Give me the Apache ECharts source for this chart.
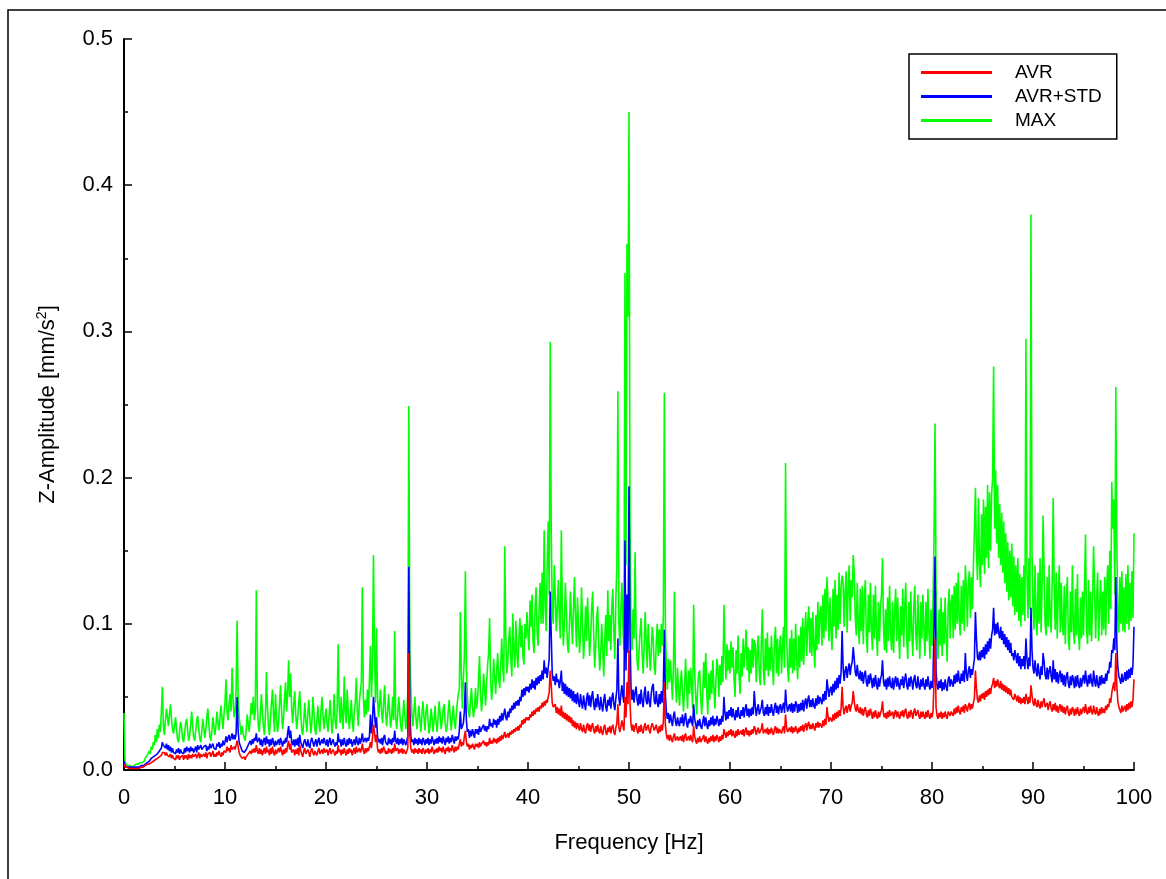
<!DOCTYPE html>
<html>
<head>
<meta charset="utf-8">
<title>Z-Amplitude spectrum</title>
<script src="https://cdn.jsdelivr.net/npm/echarts@6/dist/echarts.min.js"></script>
<style>
  html, body { margin: 0; padding: 0; background: #ffffff; }
  #chart { width: 1166px; height: 879px; }
</style>
</head>
<body>
<div id="chart"></div>
<script>
// Spectrum bins every 0.1 Hz from 0 to 100 Hz; each row below holds one 1 Hz band.
const FREQ_STEP = 0.1;
const SERIES_NAMES = ['AVR', 'AVR+STD', 'MAX'];
const X_TICKS = [0, 10, 20, 30, 40, 50, 60, 70, 80, 90, 100];
const Y_TICKS = ['0.0', '0.1', '0.2', '0.3', '0.4', '0.5'];

// Mean amplitude [mm/s²]
const avr = [
  0.004,0.002,0.002,0.002,0.001,0.001,0.001,0.001,0.001,0.001,
  0.001,0.001,0.001,0.001,0.002,0.001,0.002,0.002,0.002,0.002,
  0.003,0.003,0.003,0.004,0.004,0.004,0.005,0.005,0.006,0.006,
  0.006,0.007,0.007,0.008,0.008,0.009,0.009,0.010,0.012,0.011,
  0.012,0.010,0.012,0.010,0.011,0.009,0.011,0.008,0.010,0.008,
  0.009,0.007,0.010,0.008,0.010,0.007,0.009,0.008,0.010,0.007,
  0.010,0.008,0.010,0.007,0.011,0.008,0.010,0.008,0.011,0.009,
  0.008,0.011,0.008,0.010,0.012,0.008,0.011,0.009,0.008,0.011,
  0.009,0.012,0.008,0.011,0.010,0.012,0.009,0.011,0.013,0.009,
  0.011,0.009,0.012,0.010,0.013,0.011,0.009,0.012,0.010,0.013,
  0.014,0.012,0.016,0.013,0.015,0.012,0.017,0.014,0.013,0.016,
  0.014,0.017,0.020,0.016,0.012,0.010,0.009,0.008,0.007,0.009,
  0.007,0.009,0.008,0.011,0.010,0.013,0.011,0.014,0.012,0.015,
  0.012,0.017,0.013,0.011,0.015,0.011,0.014,0.010,0.013,0.015,
  0.011,0.016,0.012,0.014,0.010,0.015,0.011,0.016,0.012,0.010,
  0.014,0.011,0.010,0.015,0.012,0.016,0.013,0.010,0.014,0.011,
  0.015,0.012,0.017,0.020,0.014,0.018,0.012,0.011,0.014,0.010,
  0.014,0.011,0.015,0.010,0.017,0.013,0.011,0.009,0.013,0.015,
  0.011,0.010,0.014,0.012,0.009,0.013,0.015,0.012,0.010,0.013,
  0.014,0.010,0.013,0.015,0.011,0.010,0.014,0.011,0.015,0.012,
  0.011,0.014,0.010,0.013,0.015,0.011,0.010,0.014,0.012,0.010,
  0.013,0.011,0.017,0.012,0.014,0.010,0.014,0.011,0.015,0.012,
  0.010,0.014,0.011,0.015,0.012,0.014,0.010,0.013,0.015,0.011,
  0.016,0.012,0.011,0.015,0.012,0.014,0.018,0.013,0.011,0.015,
  0.012,0.015,0.013,0.016,0.019,0.015,0.022,0.031,0.026,0.019,
  0.024,0.015,0.012,0.014,0.011,0.015,0.012,0.016,0.014,0.011,
  0.013,0.011,0.015,0.012,0.014,0.011,0.015,0.012,0.018,0.013,
  0.012,0.015,0.011,0.014,0.012,0.015,0.011,0.014,0.013,0.011,
  0.013,0.015,0.080,0.024,0.015,0.012,0.014,0.011,0.015,0.012,
  0.014,0.011,0.015,0.012,0.014,0.011,0.015,0.013,0.011,0.014,
  0.012,0.015,0.011,0.014,0.012,0.016,0.013,0.011,0.014,0.012,
  0.015,0.012,0.016,0.013,0.015,0.012,0.016,0.013,0.011,0.015,
  0.013,0.016,0.012,0.015,0.013,0.017,0.014,0.012,0.016,0.013,
  0.016,0.014,0.018,0.021,0.016,0.019,0.017,0.023,0.027,0.019,
  0.016,0.018,0.014,0.017,0.015,0.018,0.016,0.014,0.018,0.016,
  0.018,0.015,0.019,0.016,0.018,0.017,0.020,0.017,0.019,0.016,
  0.019,0.017,0.022,0.018,0.020,0.018,0.022,0.019,0.021,0.018,
  0.022,0.019,0.023,0.020,0.024,0.021,0.020,0.026,0.022,0.021,
  0.025,0.022,0.026,0.024,0.027,0.025,0.028,0.026,0.029,0.027,
  0.030,0.027,0.031,0.029,0.034,0.031,0.035,0.032,0.036,0.034,
  0.036,0.034,0.038,0.036,0.040,0.037,0.041,0.038,0.042,0.040,
  0.043,0.040,0.044,0.042,0.046,0.043,0.047,0.044,0.048,0.046,
  0.050,0.053,0.068,0.058,0.046,0.043,0.042,0.045,0.039,0.043,
  0.038,0.042,0.037,0.044,0.036,0.040,0.035,0.039,0.034,0.038,
  0.033,0.037,0.032,0.036,0.030,0.034,0.029,0.033,0.028,0.032,
  0.031,0.027,0.032,0.028,0.026,0.031,0.027,0.025,0.030,0.032,
  0.027,0.031,0.026,0.030,0.032,0.027,0.025,0.030,0.026,0.031,
  0.027,0.025,0.030,0.026,0.024,0.029,0.031,0.026,0.024,0.029,
  0.026,0.030,0.025,0.029,0.031,0.026,0.024,0.029,0.032,0.045,
  0.029,0.026,0.030,0.034,0.030,0.027,0.050,0.036,0.060,0.045,
  0.082,0.046,0.031,0.027,0.031,0.026,0.030,0.032,0.027,0.025,
  0.030,0.026,0.031,0.027,0.025,0.030,0.032,0.027,0.026,0.031,
  0.027,0.025,0.030,0.032,0.033,0.027,0.026,0.031,0.027,0.025,
  0.030,0.026,0.031,0.027,0.033,0.060,0.031,0.024,0.021,0.024,
  0.020,0.024,0.021,0.019,0.023,0.025,0.020,0.019,0.023,0.020,
  0.019,0.023,0.020,0.024,0.019,0.023,0.025,0.020,0.019,0.023,
  0.020,0.024,0.021,0.019,0.030,0.023,0.020,0.018,0.022,0.019,
  0.023,0.019,0.018,0.022,0.024,0.019,0.023,0.020,0.018,0.022,
  0.019,0.023,0.020,0.024,0.019,0.023,0.020,0.024,0.022,0.019,
  0.023,0.020,0.024,0.021,0.028,0.025,0.022,0.026,0.023,0.027,
  0.024,0.028,0.023,0.027,0.024,0.022,0.027,0.023,0.028,0.024,
  0.023,0.027,0.024,0.028,0.023,0.027,0.029,0.024,0.027,0.023,
  0.027,0.024,0.028,0.025,0.030,0.028,0.024,0.027,0.029,0.025,
  0.024,0.028,0.032,0.025,0.024,0.028,0.025,0.029,0.024,0.028,
  0.025,0.029,0.026,0.024,0.028,0.030,0.025,0.029,0.025,0.028,
  0.029,0.025,0.028,0.030,0.025,0.038,0.029,0.026,0.025,0.029,
  0.026,0.030,0.025,0.029,0.026,0.030,0.029,0.025,0.029,0.026,
  0.030,0.027,0.031,0.026,0.030,0.032,0.027,0.031,0.033,0.028,
  0.031,0.028,0.032,0.029,0.027,0.032,0.029,0.033,0.029,0.032,
  0.033,0.029,0.034,0.030,0.035,0.031,0.043,0.037,0.033,0.036,
  0.037,0.033,0.038,0.034,0.039,0.035,0.040,0.036,0.041,0.037,
  0.042,0.057,0.043,0.038,0.042,0.044,0.039,0.043,0.045,0.040,
  0.044,0.046,0.054,0.047,0.042,0.040,0.045,0.041,0.039,0.043,
  0.038,0.042,0.037,0.041,0.043,0.038,0.036,0.041,0.037,0.042,
  0.039,0.035,0.040,0.036,0.041,0.037,0.035,0.040,0.036,0.039,
  0.041,0.047,0.038,0.036,0.039,0.035,0.040,0.036,0.041,0.037,
  0.036,0.040,0.035,0.039,0.041,0.036,0.040,0.037,0.035,0.040,
  0.037,0.041,0.036,0.040,0.042,0.037,0.035,0.040,0.036,0.041,
  0.039,0.035,0.040,0.042,0.037,0.036,0.041,0.037,0.035,0.040,
  0.036,0.040,0.037,0.035,0.040,0.036,0.041,0.037,0.035,0.039,
  0.036,0.040,0.060,0.090,0.043,0.037,0.035,0.039,0.036,0.040,
  0.035,0.039,0.036,0.040,0.037,0.035,0.040,0.041,0.037,0.040,
  0.041,0.037,0.042,0.038,0.043,0.039,0.044,0.040,0.038,0.043,
  0.040,0.044,0.039,0.045,0.043,0.040,0.044,0.046,0.041,0.045,
  0.042,0.046,0.049,0.068,0.056,0.048,0.046,0.051,0.047,0.052,
  0.049,0.053,0.048,0.054,0.050,0.055,0.051,0.056,0.052,0.057,
  0.059,0.063,0.056,0.061,0.057,0.062,0.058,0.056,0.061,0.055,
  0.059,0.054,0.058,0.053,0.057,0.052,0.056,0.051,0.055,0.050,
  0.051,0.048,0.052,0.050,0.047,0.051,0.046,0.050,0.045,0.049,
  0.046,0.050,0.045,0.052,0.049,0.045,0.050,0.046,0.058,0.051,
  0.046,0.044,0.049,0.045,0.043,0.048,0.044,0.042,0.047,0.043,
  0.047,0.049,0.043,0.042,0.046,0.041,0.045,0.047,0.042,0.040,
  0.045,0.041,0.046,0.040,0.044,0.039,0.043,0.045,0.040,0.044,
  0.039,0.043,0.038,0.042,0.044,0.039,0.037,0.042,0.038,0.043,
  0.041,0.037,0.042,0.038,0.043,0.039,0.037,0.042,0.038,0.041,
  0.043,0.039,0.045,0.040,0.038,0.043,0.039,0.044,0.040,0.038,
  0.044,0.040,0.038,0.043,0.039,0.037,0.042,0.038,0.043,0.039,
  0.042,0.039,0.044,0.041,0.045,0.043,0.049,0.046,0.053,0.052,
  0.060,0.054,0.080,0.057,0.047,0.043,0.041,0.039,0.044,0.040,
  0.041,0.044,0.040,0.045,0.041,0.046,0.042,0.047,0.043,0.048,
  0.062
];

// Mean plus one standard deviation [mm/s²]
const avrStd = [
  0.006,0.003,0.003,0.002,0.002,0.002,0.002,0.002,0.002,0.002,
  0.002,0.002,0.002,0.002,0.003,0.002,0.003,0.003,0.003,0.003,
  0.004,0.004,0.005,0.005,0.006,0.006,0.007,0.008,0.008,0.009,
  0.009,0.010,0.010,0.011,0.012,0.013,0.013,0.015,0.019,0.017,
  0.018,0.015,0.018,0.014,0.017,0.013,0.016,0.012,0.015,0.012,
  0.013,0.011,0.014,0.012,0.015,0.011,0.014,0.012,0.013,0.011,
  0.015,0.012,0.016,0.013,0.015,0.012,0.016,0.013,0.015,0.012,
  0.014,0.016,0.012,0.017,0.014,0.013,0.017,0.014,0.013,0.016,
  0.015,0.017,0.013,0.016,0.014,0.018,0.015,0.014,0.018,0.015,
  0.016,0.014,0.018,0.016,0.019,0.015,0.018,0.016,0.020,0.017,
  0.019,0.023,0.019,0.022,0.024,0.020,0.022,0.025,0.021,0.024,
  0.021,0.025,0.050,0.027,0.019,0.017,0.015,0.013,0.013,0.012,
  0.012,0.014,0.013,0.017,0.016,0.020,0.017,0.021,0.018,0.022,
  0.020,0.025,0.019,0.018,0.022,0.017,0.021,0.016,0.020,0.022,
  0.017,0.023,0.018,0.021,0.016,0.021,0.017,0.022,0.019,0.016,
  0.020,0.017,0.016,0.021,0.017,0.022,0.019,0.016,0.020,0.018,
  0.022,0.019,0.025,0.030,0.022,0.027,0.019,0.017,0.021,0.016,
  0.021,0.017,0.022,0.016,0.024,0.019,0.017,0.015,0.019,0.021,
  0.018,0.016,0.021,0.017,0.015,0.020,0.022,0.019,0.016,0.019,
  0.021,0.016,0.020,0.022,0.017,0.016,0.021,0.018,0.022,0.019,
  0.017,0.021,0.016,0.020,0.022,0.017,0.016,0.021,0.018,0.016,
  0.019,0.017,0.025,0.019,0.021,0.016,0.021,0.017,0.022,0.018,
  0.016,0.021,0.017,0.022,0.018,0.021,0.016,0.019,0.021,0.017,
  0.023,0.019,0.017,0.022,0.018,0.021,0.025,0.019,0.018,0.022,
  0.019,0.022,0.020,0.023,0.038,0.025,0.033,0.050,0.040,0.029,
  0.036,0.023,0.019,0.021,0.018,0.022,0.017,0.022,0.024,0.019,
  0.019,0.017,0.022,0.018,0.021,0.017,0.022,0.019,0.027,0.020,
  0.018,0.022,0.017,0.021,0.018,0.022,0.017,0.021,0.020,0.017,
  0.020,0.023,0.139,0.042,0.023,0.019,0.021,0.017,0.022,0.018,
  0.021,0.017,0.022,0.018,0.021,0.017,0.022,0.020,0.017,0.021,
  0.018,0.022,0.017,0.021,0.018,0.023,0.020,0.017,0.021,0.018,
  0.022,0.018,0.023,0.019,0.022,0.018,0.023,0.020,0.017,0.022,
  0.019,0.023,0.018,0.022,0.019,0.024,0.021,0.018,0.023,0.020,
  0.023,0.021,0.027,0.040,0.028,0.030,0.032,0.040,0.060,0.034,
  0.026,0.028,0.022,0.027,0.023,0.028,0.025,0.022,0.028,0.025,
  0.028,0.024,0.030,0.026,0.028,0.027,0.031,0.027,0.030,0.026,
  0.030,0.028,0.035,0.030,0.032,0.029,0.035,0.031,0.034,0.029,
  0.035,0.031,0.037,0.033,0.039,0.034,0.033,0.042,0.036,0.034,
  0.040,0.036,0.042,0.039,0.044,0.041,0.046,0.042,0.047,0.044,
  0.048,0.044,0.050,0.047,0.055,0.050,0.056,0.051,0.057,0.054,
  0.057,0.053,0.059,0.055,0.062,0.056,0.061,0.055,0.063,0.058,
  0.064,0.059,0.065,0.061,0.068,0.062,0.075,0.066,0.070,0.063,
  0.070,0.076,0.122,0.092,0.066,0.061,0.064,0.058,0.066,0.060,
  0.062,0.056,0.061,0.068,0.054,0.060,0.052,0.059,0.051,0.057,
  0.050,0.056,0.049,0.055,0.047,0.054,0.046,0.052,0.045,0.053,
  0.047,0.043,0.052,0.046,0.042,0.051,0.045,0.041,0.049,0.053,
  0.044,0.051,0.043,0.050,0.054,0.045,0.041,0.049,0.043,0.052,
  0.045,0.041,0.050,0.044,0.040,0.048,0.052,0.043,0.040,0.048,
  0.044,0.050,0.042,0.049,0.053,0.045,0.041,0.049,0.055,0.090,
  0.049,0.044,0.052,0.058,0.050,0.046,0.157,0.068,0.120,0.080,
  0.194,0.092,0.056,0.048,0.055,0.046,0.053,0.057,0.048,0.044,
  0.052,0.045,0.055,0.047,0.043,0.052,0.057,0.047,0.045,0.054,
  0.047,0.043,0.052,0.057,0.059,0.047,0.045,0.054,0.046,0.043,
  0.052,0.045,0.054,0.046,0.057,0.096,0.052,0.040,0.035,0.039,
  0.032,0.038,0.034,0.030,0.037,0.040,0.033,0.030,0.036,0.032,
  0.030,0.036,0.032,0.038,0.030,0.035,0.039,0.032,0.029,0.035,
  0.032,0.037,0.033,0.030,0.045,0.035,0.031,0.028,0.034,0.030,
  0.035,0.030,0.028,0.033,0.037,0.030,0.036,0.031,0.028,0.034,
  0.030,0.036,0.031,0.037,0.030,0.035,0.031,0.037,0.034,0.030,
  0.035,0.031,0.037,0.033,0.050,0.039,0.034,0.040,0.035,0.041,
  0.037,0.043,0.036,0.042,0.037,0.034,0.041,0.036,0.043,0.037,
  0.035,0.041,0.037,0.043,0.036,0.042,0.045,0.037,0.042,0.036,
  0.042,0.037,0.043,0.038,0.054,0.044,0.037,0.042,0.045,0.038,
  0.037,0.043,0.048,0.039,0.037,0.043,0.038,0.045,0.037,0.043,
  0.039,0.045,0.040,0.037,0.043,0.046,0.039,0.044,0.038,0.043,
  0.045,0.039,0.043,0.046,0.039,0.055,0.045,0.040,0.039,0.045,
  0.040,0.046,0.039,0.045,0.040,0.047,0.045,0.039,0.045,0.040,
  0.046,0.041,0.048,0.040,0.046,0.049,0.042,0.048,0.051,0.043,
  0.048,0.043,0.049,0.044,0.042,0.049,0.044,0.051,0.045,0.050,
  0.051,0.045,0.052,0.047,0.054,0.048,0.062,0.056,0.050,0.055,
  0.057,0.051,0.059,0.053,0.061,0.055,0.063,0.056,0.065,0.059,
  0.067,0.095,0.070,0.061,0.068,0.071,0.063,0.069,0.073,0.065,
  0.071,0.074,0.084,0.076,0.067,0.064,0.072,0.065,0.062,0.068,
  0.061,0.067,0.059,0.065,0.068,0.060,0.057,0.065,0.059,0.066,
  0.062,0.056,0.063,0.057,0.065,0.059,0.055,0.063,0.057,0.062,
  0.065,0.075,0.060,0.057,0.062,0.055,0.063,0.057,0.064,0.058,
  0.056,0.063,0.055,0.061,0.064,0.057,0.063,0.058,0.055,0.062,
  0.058,0.064,0.056,0.062,0.066,0.058,0.055,0.063,0.057,0.064,
  0.061,0.055,0.062,0.065,0.058,0.056,0.064,0.058,0.055,0.062,
  0.057,0.063,0.058,0.055,0.062,0.057,0.064,0.058,0.055,0.061,
  0.056,0.062,0.100,0.146,0.068,0.058,0.055,0.061,0.056,0.062,
  0.054,0.060,0.055,0.062,0.057,0.054,0.062,0.064,0.057,0.062,
  0.063,0.057,0.065,0.059,0.066,0.060,0.068,0.061,0.059,0.066,
  0.061,0.068,0.060,0.080,0.066,0.061,0.068,0.071,0.063,0.069,
  0.065,0.071,0.076,0.108,0.090,0.077,0.075,0.081,0.075,0.082,
  0.077,0.084,0.076,0.086,0.079,0.088,0.081,0.090,0.083,0.092,
  0.096,0.111,0.092,0.100,0.093,0.101,0.094,0.090,0.098,0.089,
  0.095,0.086,0.093,0.084,0.091,0.082,0.089,0.080,0.087,0.078,
  0.080,0.075,0.082,0.078,0.073,0.080,0.071,0.078,0.069,0.076,
  0.071,0.078,0.069,0.090,0.076,0.069,0.077,0.071,0.111,0.082,
  0.070,0.066,0.075,0.068,0.064,0.073,0.066,0.062,0.071,0.065,
  0.080,0.074,0.065,0.062,0.070,0.062,0.068,0.071,0.064,0.060,
  0.075,0.062,0.069,0.060,0.067,0.059,0.065,0.068,0.060,0.066,
  0.058,0.065,0.057,0.064,0.067,0.059,0.056,0.064,0.058,0.065,
  0.062,0.056,0.064,0.057,0.065,0.059,0.056,0.063,0.057,0.062,
  0.065,0.059,0.068,0.061,0.057,0.065,0.059,0.066,0.060,0.057,
  0.068,0.061,0.057,0.065,0.059,0.056,0.064,0.058,0.065,0.059,
  0.063,0.059,0.066,0.061,0.068,0.066,0.074,0.070,0.082,0.080,
  0.090,0.082,0.132,0.086,0.070,0.064,0.062,0.059,0.066,0.060,
  0.062,0.067,0.061,0.068,0.062,0.069,0.063,0.070,0.065,0.072,
  0.098
];

// Maximum amplitude [mm/s²]
const maxAmp = [
  0.039,0.006,0.004,0.003,0.003,0.002,0.003,0.003,0.002,0.003,
  0.003,0.003,0.004,0.003,0.004,0.004,0.005,0.004,0.005,0.006,
  0.006,0.008,0.007,0.010,0.009,0.013,0.011,0.016,0.014,0.019,
  0.017,0.024,0.019,0.028,0.022,0.031,0.026,0.040,0.057,0.030,
  0.024,0.034,0.042,0.036,0.030,0.038,0.045,0.035,0.028,0.025,
  0.030,0.036,0.028,0.021,0.019,0.026,0.033,0.029,0.022,0.019,
  0.025,0.032,0.035,0.027,0.020,0.024,0.031,0.040,0.030,0.022,
  0.020,0.027,0.034,0.037,0.028,0.022,0.019,0.026,0.035,0.029,
  0.022,0.028,0.036,0.042,0.031,0.023,0.020,0.027,0.036,0.030,
  0.024,0.030,0.040,0.033,0.027,0.035,0.044,0.036,0.028,0.038,
  0.046,0.062,0.040,0.034,0.045,0.052,0.040,0.070,0.048,0.036,
  0.040,0.055,0.102,0.050,0.036,0.030,0.024,0.030,0.025,0.022,
  0.020,0.028,0.038,0.032,0.026,0.036,0.046,0.038,0.050,0.034,
  0.040,0.123,0.045,0.030,0.026,0.038,0.052,0.040,0.030,0.024,
  0.036,0.067,0.044,0.030,0.024,0.035,0.046,0.055,0.038,0.026,
  0.052,0.036,0.026,0.032,0.046,0.058,0.040,0.028,0.036,0.050,
  0.060,0.040,0.052,0.075,0.050,0.066,0.042,0.032,0.045,0.054,
  0.038,0.028,0.036,0.046,0.054,0.038,0.027,0.024,0.034,0.046,
  0.034,0.026,0.038,0.048,0.036,0.025,0.032,0.050,0.040,0.028,
  0.024,0.034,0.044,0.032,0.026,0.040,0.050,0.038,0.028,0.036,
  0.042,0.032,0.026,0.036,0.048,0.036,0.025,0.034,0.052,0.034,
  0.028,0.040,0.086,0.044,0.032,0.050,0.036,0.028,0.064,0.040,
  0.032,0.055,0.040,0.028,0.036,0.048,0.034,0.026,0.040,0.046,
  0.063,0.040,0.030,0.046,0.054,0.060,0.125,0.050,0.036,0.048,
  0.038,0.055,0.040,0.062,0.085,0.050,0.070,0.147,0.080,0.046,
  0.097,0.050,0.036,0.045,0.055,0.040,0.032,0.045,0.058,0.040,
  0.030,0.040,0.052,0.040,0.029,0.036,0.050,0.034,0.095,0.036,
  0.028,0.038,0.050,0.040,0.030,0.026,0.036,0.048,0.038,0.028,
  0.034,0.054,0.249,0.080,0.056,0.038,0.030,0.040,0.050,0.036,
  0.028,0.036,0.044,0.034,0.026,0.038,0.047,0.036,0.027,0.040,
  0.045,0.034,0.025,0.030,0.042,0.036,0.026,0.034,0.044,0.032,
  0.026,0.036,0.047,0.038,0.028,0.034,0.042,0.045,0.032,0.026,
  0.030,0.040,0.048,0.036,0.027,0.036,0.044,0.034,0.028,0.038,
  0.046,0.052,0.055,0.108,0.066,0.042,0.062,0.078,0.136,0.070,
  0.050,0.040,0.036,0.046,0.056,0.044,0.036,0.042,0.056,0.042,
  0.048,0.062,0.078,0.052,0.040,0.050,0.066,0.056,0.044,0.060,
  0.072,0.080,0.104,0.060,0.048,0.058,0.076,0.064,0.052,0.068,
  0.080,0.062,0.056,0.072,0.090,0.070,0.060,0.153,0.092,0.066,
  0.074,0.090,0.098,0.076,0.064,0.107,0.082,0.070,0.102,0.080,
  0.070,0.090,0.104,0.084,0.099,0.078,0.072,0.100,0.090,0.108,
  0.092,0.082,0.116,0.098,0.120,0.088,0.080,0.110,0.125,0.094,
  0.085,0.110,0.128,0.100,0.135,0.100,0.164,0.112,0.095,0.140,
  0.170,0.120,0.293,0.165,0.110,0.100,0.140,0.120,0.095,0.110,
  0.130,0.105,0.090,0.164,0.110,0.085,0.100,0.128,0.108,0.086,
  0.080,0.098,0.122,0.104,0.086,0.110,0.132,0.105,0.084,0.118,
  0.100,0.080,0.092,0.125,0.100,0.076,0.090,0.112,0.088,0.118,
  0.098,0.078,0.090,0.110,0.122,0.094,0.070,0.084,0.104,0.112,
  0.086,0.068,0.080,0.100,0.082,0.064,0.090,0.106,0.078,0.123,
  0.088,0.106,0.082,0.112,0.124,0.094,0.076,0.118,0.140,0.259,
  0.100,0.085,0.112,0.128,0.098,0.082,0.340,0.140,0.360,0.310,
  0.450,0.170,0.100,0.082,0.110,0.090,0.149,0.095,0.075,0.068,
  0.082,0.095,0.104,0.080,0.066,0.084,0.108,0.090,0.070,0.100,
  0.085,0.068,0.080,0.098,0.090,0.070,0.065,0.088,0.100,0.078,
  0.096,0.080,0.100,0.085,0.105,0.258,0.100,0.070,0.055,0.076,
  0.060,0.075,0.062,0.048,0.072,0.122,0.060,0.046,0.070,0.056,
  0.044,0.060,0.068,0.052,0.040,0.056,0.076,0.058,0.042,0.068,
  0.052,0.070,0.058,0.042,0.113,0.068,0.050,0.038,0.056,0.066,
  0.068,0.050,0.038,0.052,0.074,0.056,0.080,0.054,0.038,0.066,
  0.048,0.068,0.052,0.075,0.058,0.042,0.060,0.076,0.070,0.050,
  0.072,0.058,0.078,0.060,0.113,0.080,0.062,0.086,0.068,0.082,
  0.066,0.088,0.070,0.084,0.062,0.050,0.082,0.066,0.092,0.064,
  0.052,0.080,0.064,0.090,0.070,0.082,0.096,0.068,0.084,0.060,
  0.082,0.066,0.090,0.070,0.089,0.086,0.060,0.082,0.092,0.066,
  0.058,0.086,0.110,0.070,0.058,0.090,0.068,0.094,0.064,0.084,
  0.068,0.092,0.074,0.058,0.088,0.098,0.066,0.090,0.064,0.084,
  0.092,0.066,0.084,0.098,0.070,0.210,0.094,0.070,0.060,0.090,
  0.070,0.096,0.066,0.090,0.068,0.100,0.076,0.062,0.092,0.070,
  0.098,0.074,0.104,0.072,0.094,0.108,0.078,0.100,0.112,0.080,
  0.104,0.078,0.108,0.084,0.070,0.106,0.082,0.115,0.086,0.108,
  0.112,0.085,0.120,0.090,0.124,0.095,0.132,0.115,0.088,0.118,
  0.095,0.082,0.124,0.098,0.130,0.090,0.120,0.096,0.135,0.100,
  0.125,0.133,0.128,0.098,0.122,0.136,0.094,0.124,0.140,0.102,
  0.130,0.118,0.147,0.134,0.105,0.092,0.128,0.100,0.086,0.124,
  0.095,0.126,0.086,0.118,0.130,0.092,0.080,0.120,0.094,0.128,
  0.096,0.082,0.120,0.090,0.126,0.095,0.078,0.115,0.088,0.112,
  0.120,0.145,0.098,0.082,0.110,0.080,0.118,0.088,0.126,0.094,
  0.082,0.115,0.080,0.108,0.124,0.088,0.118,0.094,0.076,0.112,
  0.092,0.124,0.084,0.112,0.128,0.090,0.076,0.115,0.088,0.122,
  0.094,0.078,0.112,0.126,0.092,0.082,0.120,0.095,0.076,0.115,
  0.090,0.120,0.096,0.078,0.115,0.088,0.124,0.094,0.076,0.110,
  0.085,0.115,0.160,0.237,0.125,0.090,0.076,0.110,0.085,0.118,
  0.078,0.108,0.086,0.118,0.092,0.074,0.112,0.124,0.090,0.115,
  0.120,0.090,0.126,0.096,0.128,0.100,0.135,0.102,0.092,0.126,
  0.100,0.130,0.095,0.140,0.124,0.098,0.128,0.136,0.104,0.132,
  0.110,0.140,0.165,0.193,0.150,0.130,0.186,0.140,0.125,0.175,
  0.140,0.185,0.134,0.180,0.145,0.195,0.138,0.190,0.150,0.188,
  0.200,0.276,0.165,0.205,0.155,0.195,0.145,0.182,0.140,0.176,
  0.135,0.170,0.128,0.162,0.122,0.156,0.116,0.150,0.118,0.155,
  0.112,0.146,0.106,0.140,0.108,0.145,0.102,0.134,0.098,0.132,
  0.106,0.140,0.102,0.295,0.135,0.104,0.145,0.110,0.380,0.150,
  0.110,0.096,0.140,0.104,0.092,0.135,0.100,0.145,0.094,0.126,
  0.174,0.135,0.100,0.092,0.132,0.098,0.140,0.104,0.094,0.130,
  0.186,0.125,0.096,0.135,0.090,0.120,0.140,0.094,0.128,0.100,
  0.092,0.126,0.086,0.118,0.132,0.090,0.082,0.122,0.094,0.140,
  0.096,0.086,0.124,0.092,0.134,0.094,0.082,0.118,0.090,0.122,
  0.092,0.126,0.161,0.096,0.086,0.130,0.092,0.122,0.088,0.116,
  0.153,0.124,0.090,0.118,0.135,0.088,0.114,0.130,0.092,0.122,
  0.096,0.132,0.092,0.126,0.140,0.100,0.150,0.110,0.197,0.165,
  0.185,0.120,0.262,0.155,0.104,0.094,0.132,0.100,0.136,0.095,
  0.125,0.094,0.134,0.100,0.140,0.096,0.128,0.102,0.136,0.104,
  0.162
];

const FONT = '"Liberation Sans", Arial, Helvetica, sans-serif';

const freq = avr.map((_, i) => Math.round(i * FREQ_STEP * 10) / 10);
const pairs = (vals) => vals.map((v, i) => [freq[i], v]);

const chart = echarts.init(document.getElementById('chart'), null, { renderer: 'canvas' });

const axisCommon = {
  axisLine: { show: true, onZero: false, lineStyle: { color: '#000', width: 2 } },
  axisTick: { show: true, inside: true, length: 8, lineStyle: { color: '#000', width: 1.5 } },
  minorTick: { show: true, splitNumber: 2, length: 4, lineStyle: { color: '#000', width: 1.5 } },
  splitLine: { show: false },
  minorSplitLine: { show: false }
};

chart.setOption({
  animation: false,
  backgroundColor: '#ffffff',
  textStyle: { fontFamily: FONT },
  graphic: [{
    type: 'rect',
    shape: { x: 8, y: 10, width: 1300, height: 1000 },
    style: { fill: 'none', stroke: '#000', lineWidth: 1.5 },
    silent: true,
    z: -10
  }],
  grid: { left: 124, right: 32, top: 39, bottom: 109 },
  legend: {
    orient: 'vertical',
    left: 909,
    top: 54,
    data: SERIES_NAMES,
    icon: 'rect',
    itemWidth: 71,
    itemHeight: 3,
    itemGap: 5,
    padding: [9, 15, 9, 12],
    borderColor: '#000',
    borderWidth: 1.5,
    backgroundColor: '#fff',
    textStyle: { fontFamily: FONT, fontSize: 19, color: '#000', padding: [0, 0, 0, 18] }
  },
  xAxis: Object.assign({
    type: 'value',
    min: X_TICKS[0],
    max: X_TICKS[X_TICKS.length - 1],
    interval: X_TICKS[1] - X_TICKS[0],
    name: 'Frequency [Hz]',
    nameLocation: 'middle',
    nameGap: 62,
    nameTextStyle: { fontFamily: FONT, fontSize: 22, color: '#000' },
    axisLabel: { fontFamily: FONT, fontSize: 22, color: '#000', margin: 17,
      formatter: (v) => String(v) }
  }, axisCommon),
  yAxis: Object.assign({
    type: 'value',
    min: 0,
    max: 0.5,
    interval: 0.1,
    name: 'Z-Amplitude [mm/s{sup|2}]',
    nameLocation: 'middle',
    nameRotate: 90,
    nameGap: 63,
    nameTextStyle: {
      fontFamily: FONT, fontSize: 22, color: '#000',
      rich: { sup: { fontFamily: FONT, fontSize: 14, color: '#000', verticalAlign: 'top', padding: [0, 0, 12, 0] } }
    },
    axisLabel: { fontFamily: FONT, fontSize: 22, color: '#000', margin: 11,
      formatter: (v) => Y_TICKS[Math.round(v * 10)] }
  }, axisCommon),
  series: [
    { name: SERIES_NAMES[0], type: 'line', data: pairs(avr), showSymbol: false, symbol: 'none',
      color: '#ff0000', lineStyle: { color: '#ff0000', width: 1.6 }, z: 5 },
    { name: SERIES_NAMES[1], type: 'line', data: pairs(avrStd), showSymbol: false, symbol: 'none',
      color: '#0000ff', lineStyle: { color: '#0000ff', width: 1.6 }, z: 4 },
    { name: SERIES_NAMES[2], type: 'line', data: pairs(maxAmp), showSymbol: false, symbol: 'none',
      color: '#00ff00', lineStyle: { color: '#00ff00', width: 1.6 }, z: 3 }
  ]
});
</script>
</body>
</html>
